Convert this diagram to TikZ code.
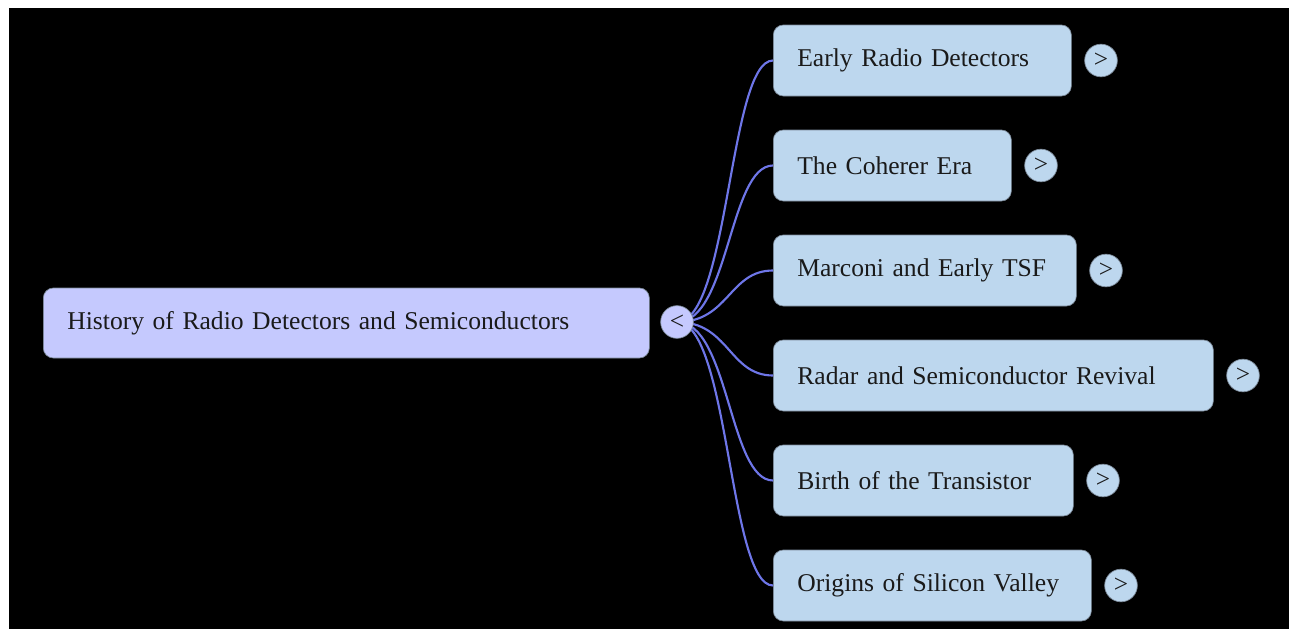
\documentclass[tikz,border=0pt]{standalone}
\usepackage{fontspec}
\setmainfont{Liberation Serif}
\usetikzlibrary{positioning}

\definecolor{rootfill}{HTML}{C5C9FE}
\definecolor{topicfill}{HTML}{BDD7EE}
\definecolor{boxline}{HTML}{7C8A99}
\definecolor{linkcol}{HTML}{6E76E8}
\definecolor{inkcol}{HTML}{1A1A1A}

\tikzset{
  topic/.style={draw=boxline, line width=0.5pt, fill=topicfill, rounded corners=7.5pt,
    minimum height=53.25pt, inner xsep=18pt, anchor=west, align=left, text=inkcol},
  toggle/.style={circle, draw=boxline, line width=0.5pt, fill=topicfill, minimum size=24.5pt,
    inner sep=0pt, text=inkcol, font=\fontsize{19pt}{19pt}\selectfont},
  link/.style={draw=linkcol, line width=1.6pt}
}

\begin{document}
\begin{tikzpicture}[x=0.75pt, y=-0.75pt, every node/.style={font=\fontsize{19.2pt}{23pt}\selectfont}]

% page and dark canvas
\useasboundingbox (0,0) rectangle (1289,629);
\fill[white] (0,0) rectangle (1289,629);
\fill[black] (9,8) rectangle (1289,629);

% Root topic
\node[topic, fill=rootfill, text width=418.5pt, minimum height=52.5pt] (root) at (43,323) {History of Radio Detectors and Semiconductors};
\coordinate (hub) at (677,322);

% Child topics
\node[topic, text width=187.5pt] (c1) at (773,60.5) {Early Radio Detectors};
\node[topic, text width=142.5pt] (c2) at (773,165.5) {The Coherer Era};
\node[topic, text width=191.25pt] (c3) at (773,270.5) {Marconi and Early TSF};
\node[topic, text width=294pt] (c4) at (773,375.5) {Radar and Semiconductor Revival};
\node[topic, text width=189pt] (c5) at (773,480.5) {Birth of the Transistor};
\node[topic, text width=202.5pt] (c6) at (773,585.5) {Origins of Silicon Valley};

% Links from the hub to each child
\foreach \i in {1,...,6} {
	\draw[link] (hub) .. controls +(52,0) and +(-44,0) .. (c\i.west);
}

% Fold toggles
\node[toggle, fill=rootfill] (t0) at (hub) {<};
\foreach \i in {1,...,6} {
	\node[toggle, right=9.5pt of c\i] (t\i) {>};
}

\end{tikzpicture}
\end{document}
